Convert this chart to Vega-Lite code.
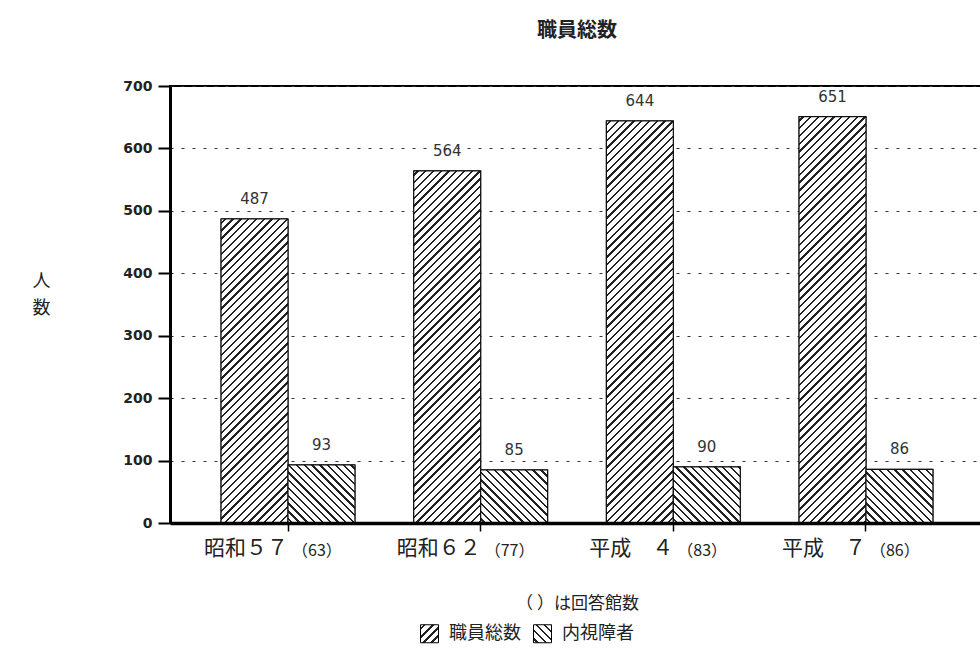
{
  "$schema": "https://vega.github.io/schema/vega-lite/v6.json",
  "width": 814,
  "height": 437,
  "autosize": "none",
  "padding": {"left": 170, "top": 86, "right": 0, "bottom": 128},
  "background": "white",
  "params": [
    {
      "name": "hatch",
      "value": [
        {"offset":0,"color":"#fff"},
        {"offset":0.004,"color":"#fff"},{"offset":0.004,"color":"#222"},{"offset":0.007,"color":"#222"},{"offset":0.007,"color":"#fff"},
        {"offset":0.014,"color":"#fff"},{"offset":0.014,"color":"#222"},{"offset":0.017,"color":"#222"},{"offset":0.017,"color":"#fff"},
        {"offset":0.024,"color":"#fff"},{"offset":0.024,"color":"#222"},{"offset":0.027,"color":"#222"},{"offset":0.027,"color":"#fff"},
        {"offset":0.034,"color":"#fff"},{"offset":0.034,"color":"#222"},{"offset":0.037,"color":"#222"},{"offset":0.037,"color":"#fff"},
        {"offset":0.044,"color":"#fff"},{"offset":0.044,"color":"#222"},{"offset":0.047,"color":"#222"},{"offset":0.047,"color":"#fff"},
        {"offset":0.054,"color":"#fff"},{"offset":0.054,"color":"#222"},{"offset":0.057,"color":"#222"},{"offset":0.057,"color":"#fff"},
        {"offset":0.064,"color":"#fff"},{"offset":0.064,"color":"#222"},{"offset":0.067,"color":"#222"},{"offset":0.067,"color":"#fff"},
        {"offset":0.074,"color":"#fff"},{"offset":0.074,"color":"#222"},{"offset":0.077,"color":"#222"},{"offset":0.077,"color":"#fff"},
        {"offset":0.084,"color":"#fff"},{"offset":0.084,"color":"#222"},{"offset":0.087,"color":"#222"},{"offset":0.087,"color":"#fff"},
        {"offset":0.094,"color":"#fff"},{"offset":0.094,"color":"#222"},{"offset":0.097,"color":"#222"},{"offset":0.097,"color":"#fff"},
        {"offset":0.104,"color":"#fff"},{"offset":0.104,"color":"#222"},{"offset":0.107,"color":"#222"},{"offset":0.107,"color":"#fff"},
        {"offset":0.114,"color":"#fff"},{"offset":0.114,"color":"#222"},{"offset":0.117,"color":"#222"},{"offset":0.117,"color":"#fff"},
        {"offset":0.124,"color":"#fff"},{"offset":0.124,"color":"#222"},{"offset":0.127,"color":"#222"},{"offset":0.127,"color":"#fff"},
        {"offset":0.134,"color":"#fff"},{"offset":0.134,"color":"#222"},{"offset":0.137,"color":"#222"},{"offset":0.137,"color":"#fff"},
        {"offset":0.144,"color":"#fff"},{"offset":0.144,"color":"#222"},{"offset":0.147,"color":"#222"},{"offset":0.147,"color":"#fff"},
        {"offset":0.154,"color":"#fff"},{"offset":0.154,"color":"#222"},{"offset":0.157,"color":"#222"},{"offset":0.157,"color":"#fff"},
        {"offset":0.164,"color":"#fff"},{"offset":0.164,"color":"#222"},{"offset":0.167,"color":"#222"},{"offset":0.167,"color":"#fff"},
        {"offset":0.174,"color":"#fff"},{"offset":0.174,"color":"#222"},{"offset":0.177,"color":"#222"},{"offset":0.177,"color":"#fff"},
        {"offset":0.184,"color":"#fff"},{"offset":0.184,"color":"#222"},{"offset":0.187,"color":"#222"},{"offset":0.187,"color":"#fff"},
        {"offset":0.194,"color":"#fff"},{"offset":0.194,"color":"#222"},{"offset":0.197,"color":"#222"},{"offset":0.197,"color":"#fff"},
        {"offset":0.204,"color":"#fff"},{"offset":0.204,"color":"#222"},{"offset":0.207,"color":"#222"},{"offset":0.207,"color":"#fff"},
        {"offset":0.214,"color":"#fff"},{"offset":0.214,"color":"#222"},{"offset":0.217,"color":"#222"},{"offset":0.217,"color":"#fff"},
        {"offset":0.224,"color":"#fff"},{"offset":0.224,"color":"#222"},{"offset":0.227,"color":"#222"},{"offset":0.227,"color":"#fff"},
        {"offset":0.234,"color":"#fff"},{"offset":0.234,"color":"#222"},{"offset":0.237,"color":"#222"},{"offset":0.237,"color":"#fff"},
        {"offset":0.244,"color":"#fff"},{"offset":0.244,"color":"#222"},{"offset":0.247,"color":"#222"},{"offset":0.247,"color":"#fff"},
        {"offset":0.254,"color":"#fff"},{"offset":0.254,"color":"#222"},{"offset":0.257,"color":"#222"},{"offset":0.257,"color":"#fff"},
        {"offset":0.264,"color":"#fff"},{"offset":0.264,"color":"#222"},{"offset":0.267,"color":"#222"},{"offset":0.267,"color":"#fff"},
        {"offset":0.274,"color":"#fff"},{"offset":0.274,"color":"#222"},{"offset":0.277,"color":"#222"},{"offset":0.277,"color":"#fff"},
        {"offset":0.284,"color":"#fff"},{"offset":0.284,"color":"#222"},{"offset":0.287,"color":"#222"},{"offset":0.287,"color":"#fff"},
        {"offset":0.294,"color":"#fff"},{"offset":0.294,"color":"#222"},{"offset":0.297,"color":"#222"},{"offset":0.297,"color":"#fff"},
        {"offset":0.304,"color":"#fff"},{"offset":0.304,"color":"#222"},{"offset":0.307,"color":"#222"},{"offset":0.307,"color":"#fff"},
        {"offset":0.314,"color":"#fff"},{"offset":0.314,"color":"#222"},{"offset":0.317,"color":"#222"},{"offset":0.317,"color":"#fff"},
        {"offset":0.324,"color":"#fff"},{"offset":0.324,"color":"#222"},{"offset":0.327,"color":"#222"},{"offset":0.327,"color":"#fff"},
        {"offset":0.334,"color":"#fff"},{"offset":0.334,"color":"#222"},{"offset":0.337,"color":"#222"},{"offset":0.337,"color":"#fff"},
        {"offset":0.344,"color":"#fff"},{"offset":0.344,"color":"#222"},{"offset":0.347,"color":"#222"},{"offset":0.347,"color":"#fff"},
        {"offset":0.354,"color":"#fff"},{"offset":0.354,"color":"#222"},{"offset":0.357,"color":"#222"},{"offset":0.357,"color":"#fff"},
        {"offset":0.364,"color":"#fff"},{"offset":0.364,"color":"#222"},{"offset":0.367,"color":"#222"},{"offset":0.367,"color":"#fff"},
        {"offset":0.374,"color":"#fff"},{"offset":0.374,"color":"#222"},{"offset":0.377,"color":"#222"},{"offset":0.377,"color":"#fff"},
        {"offset":0.384,"color":"#fff"},{"offset":0.384,"color":"#222"},{"offset":0.387,"color":"#222"},{"offset":0.387,"color":"#fff"},
        {"offset":0.394,"color":"#fff"},{"offset":0.394,"color":"#222"},{"offset":0.397,"color":"#222"},{"offset":0.397,"color":"#fff"},
        {"offset":0.404,"color":"#fff"},{"offset":0.404,"color":"#222"},{"offset":0.407,"color":"#222"},{"offset":0.407,"color":"#fff"},
        {"offset":0.414,"color":"#fff"},{"offset":0.414,"color":"#222"},{"offset":0.417,"color":"#222"},{"offset":0.417,"color":"#fff"},
        {"offset":0.424,"color":"#fff"},{"offset":0.424,"color":"#222"},{"offset":0.427,"color":"#222"},{"offset":0.427,"color":"#fff"},
        {"offset":0.434,"color":"#fff"},{"offset":0.434,"color":"#222"},{"offset":0.437,"color":"#222"},{"offset":0.437,"color":"#fff"},
        {"offset":0.444,"color":"#fff"},{"offset":0.444,"color":"#222"},{"offset":0.447,"color":"#222"},{"offset":0.447,"color":"#fff"},
        {"offset":0.454,"color":"#fff"},{"offset":0.454,"color":"#222"},{"offset":0.457,"color":"#222"},{"offset":0.457,"color":"#fff"},
        {"offset":0.464,"color":"#fff"},{"offset":0.464,"color":"#222"},{"offset":0.467,"color":"#222"},{"offset":0.467,"color":"#fff"},
        {"offset":0.474,"color":"#fff"},{"offset":0.474,"color":"#222"},{"offset":0.477,"color":"#222"},{"offset":0.477,"color":"#fff"},
        {"offset":0.484,"color":"#fff"},{"offset":0.484,"color":"#222"},{"offset":0.487,"color":"#222"},{"offset":0.487,"color":"#fff"},
        {"offset":0.494,"color":"#fff"},{"offset":0.494,"color":"#222"},{"offset":0.497,"color":"#222"},{"offset":0.497,"color":"#fff"},
        {"offset":0.504,"color":"#fff"},{"offset":0.504,"color":"#222"},{"offset":0.507,"color":"#222"},{"offset":0.507,"color":"#fff"},
        {"offset":0.514,"color":"#fff"},{"offset":0.514,"color":"#222"},{"offset":0.517,"color":"#222"},{"offset":0.517,"color":"#fff"},
        {"offset":0.524,"color":"#fff"},{"offset":0.524,"color":"#222"},{"offset":0.527,"color":"#222"},{"offset":0.527,"color":"#fff"},
        {"offset":0.534,"color":"#fff"},{"offset":0.534,"color":"#222"},{"offset":0.537,"color":"#222"},{"offset":0.537,"color":"#fff"},
        {"offset":0.544,"color":"#fff"},{"offset":0.544,"color":"#222"},{"offset":0.547,"color":"#222"},{"offset":0.547,"color":"#fff"},
        {"offset":0.554,"color":"#fff"},{"offset":0.554,"color":"#222"},{"offset":0.557,"color":"#222"},{"offset":0.557,"color":"#fff"},
        {"offset":0.564,"color":"#fff"},{"offset":0.564,"color":"#222"},{"offset":0.567,"color":"#222"},{"offset":0.567,"color":"#fff"},
        {"offset":0.574,"color":"#fff"},{"offset":0.574,"color":"#222"},{"offset":0.577,"color":"#222"},{"offset":0.577,"color":"#fff"},
        {"offset":0.584,"color":"#fff"},{"offset":0.584,"color":"#222"},{"offset":0.587,"color":"#222"},{"offset":0.587,"color":"#fff"},
        {"offset":0.594,"color":"#fff"},{"offset":0.594,"color":"#222"},{"offset":0.597,"color":"#222"},{"offset":0.597,"color":"#fff"},
        {"offset":0.604,"color":"#fff"},{"offset":0.604,"color":"#222"},{"offset":0.607,"color":"#222"},{"offset":0.607,"color":"#fff"},
        {"offset":0.614,"color":"#fff"},{"offset":0.614,"color":"#222"},{"offset":0.617,"color":"#222"},{"offset":0.617,"color":"#fff"},
        {"offset":0.624,"color":"#fff"},{"offset":0.624,"color":"#222"},{"offset":0.627,"color":"#222"},{"offset":0.627,"color":"#fff"},
        {"offset":1,"color":"#fff"}
      ]
    }
  ],
  "title": {
    "text": "職員総数",
    "font": "Noto Sans CJK JP",
    "fontSize": 20,
    "fontWeight": "bold",
    "color": "#222",
    "offset": 38
  },
  "datasets": {
    "staff": [
      {"年度": "昭和５７", "系列": "職員総数", "人数": 487},
      {"年度": "昭和５７", "系列": "内視障者", "人数": 93},
      {"年度": "昭和６２", "系列": "職員総数", "人数": 564},
      {"年度": "昭和６２", "系列": "内視障者", "人数": 85},
      {"年度": "平成　４", "系列": "職員総数", "人数": 644},
      {"年度": "平成　４", "系列": "内視障者", "人数": 90},
      {"年度": "平成　７", "系列": "職員総数", "人数": 651},
      {"年度": "平成　７", "系列": "内視障者", "人数": 86}
    ],
    "libraries": [
      {"年度": "昭和５７", "回答館数": 63},
      {"年度": "昭和６２", "回答館数": 77},
      {"年度": "平成　４", "回答館数": 83},
      {"年度": "平成　７", "回答館数": 86}
    ]
  },
  "config": {
    "view": {"stroke": "#000", "strokeWidth": 2},
    "font": "Noto Sans CJK JP"
  },
  "layer": [
    {
      "data": {"name": "staff"},
      "mark": {"type": "bar", "stroke": "#111", "strokeWidth": 1},
      "encoding": {
        "x": {
          "field": "年度",
          "type": "nominal",
          "scale": {
            "domain": ["昭和５７", "昭和６２", "平成　４", "平成　７"],
            "paddingInner": 0.305,
            "paddingOuter": 0.265
          },
          "axis": {
            "title": "（ ）は回答館数",
            "titleFont": "Noto Sans CJK JP",
            "titleFontSize": 17,
            "titleFontWeight": "normal",
            "titleColor": "#222",
            "titleBaseline": "top",
            "titleY": 72,
            "zindex": 1,
            "domainColor": "#000",
            "domainWidth": 3.5,
            "tickColor": "#000",
            "tickSize": 8,
            "tickWidth": 1.5,
            "labelFont": "Noto Sans CJK JP",
            "labelFontSize": 21,
            "labelColor": "#222",
            "labelAngle": 0,
            "labelAlign": "right",
            "labelDx": 5,
            "labelBaseline": "top",
            "labelPadding": 6
          }
        },
        "xOffset": {
          "field": "系列",
          "type": "nominal",
          "sort": ["職員総数", "内視障者"],
          "scale": {"paddingInner": 0, "paddingOuter": 0}
        },
        "y": {
          "field": "人数",
          "type": "quantitative",
          "stack": null,
          "scale": {"domain": [0, 700], "nice": false},
          "axis": {
            "title": ["人", "数"],
            "titleAngle": 0,
            "titleX": -129,
            "titleY": 186,
            "titleAlign": "center",
            "titleBaseline": "top",
            "titleFont": "Noto Sans CJK JP",
            "titleFontSize": 18,
            "titleFontWeight": "normal",
            "titleLineHeight": 27,
            "titleColor": "#222",
            "values": [0, 100, 200, 300, 400, 500, 600, 700],
            "domainColor": "#000",
            "domainWidth": 3,
            "tickColor": "#000",
            "tickSize": 12,
            "tickWidth": 2,
            "labelFont": "DejaVu Sans",
            "labelFontWeight": "bold",
            "labelFontSize": 14,
            "labelColor": "#222",
            "labelPadding": 6,
            "grid": true,
            "gridColor": "#333",
            "gridDash": [3, 8],
            "gridWidth": 1
          }
        },
        "fill": {
          "field": "系列",
          "type": "nominal",
          "scale": {
            "domain": ["職員総数", "内視障者"],
            "range": [
              {"expr": "{gradient: 'linear', x1: 0, y1: 0, x2: 22.5, y2: 22.5, stops: hatch}"},
              {"expr": "{gradient: 'linear', x1: 0, y1: 1, x2: 22.5, y2: -21.5, stops: hatch}"}
            ]
          },
          "legend": {
            "title": null,
            "orient": "none",
            "legendX": 250,
            "legendY": 538,
            "direction": "horizontal",
            "symbolType": "square",
            "symbolSize": 324,
            "symbolStrokeColor": "#000",
            "symbolStrokeWidth": 1,
            "labelFont": "Noto Sans CJK JP",
            "labelFontSize": 18,
            "labelColor": "#222",
            "labelOffset": 10,
            "columnPadding": 10
          }
        }
      }
    },
    {
      "data": {"name": "staff"},
      "mark": {
        "type": "bar",
        "stroke": "#111",
        "strokeWidth": 1.2,
        "fill": {
          "expr": "datum['系列'] === '職員総数' ? {gradient: 'linear', x1: 0, y1: 0, x2: 778 * bandwidth('xOffset') / (pow(bandwidth('xOffset'), 2) + pow(scale('y', 0) - scale('y', datum['人数']), 2)), y2: 778 * (scale('y', 0) - scale('y', datum['人数'])) / (pow(bandwidth('xOffset'), 2) + pow(scale('y', 0) - scale('y', datum['人数']), 2)), stops: hatch} : {gradient: 'linear', x1: 0, y1: 1, x2: 778 * bandwidth('xOffset') / (pow(bandwidth('xOffset'), 2) + pow(scale('y', 0) - scale('y', datum['人数']), 2)), y2: 1 - 778 * (scale('y', 0) - scale('y', datum['人数'])) / (pow(bandwidth('xOffset'), 2) + pow(scale('y', 0) - scale('y', datum['人数']), 2)), stops: hatch}"
        }
      },
      "encoding": {
        "x": {"field": "年度", "type": "nominal"},
        "xOffset": {"field": "系列", "type": "nominal", "sort": ["職員総数", "内視障者"]},
        "y": {"field": "人数", "type": "quantitative", "stack": null}
      }
    },
    {
      "data": {"name": "staff"},
      "mark": {
        "type": "text",
        "font": "DejaVu Sans",
        "fontSize": 15,
        "color": "#333",
        "baseline": "alphabetic",
        "dy": -15
      },
      "encoding": {
        "x": {"field": "年度", "type": "nominal"},
        "xOffset": {"field": "系列", "type": "nominal", "sort": ["職員総数", "内視障者"]},
        "y": {"field": "人数", "type": "quantitative", "stack": null},
        "text": {"field": "人数", "type": "quantitative"}
      }
    },
    {
      "data": {"name": "libraries"},
      "mark": {
        "type": "text",
        "text": {"expr": "'（' + datum['回答館数'] + '）'"},
        "font": "Noto Sans CJK JP",
        "fontSize": 16,
        "color": "#222",
        "align": "left",
        "baseline": "alphabetic",
        "dx": 4,
        "dy": 33
      },
      "encoding": {
        "x": {"field": "年度", "type": "nominal"},
        "y": {"datum": 0, "type": "quantitative"}
      }
    }
  ]
}
